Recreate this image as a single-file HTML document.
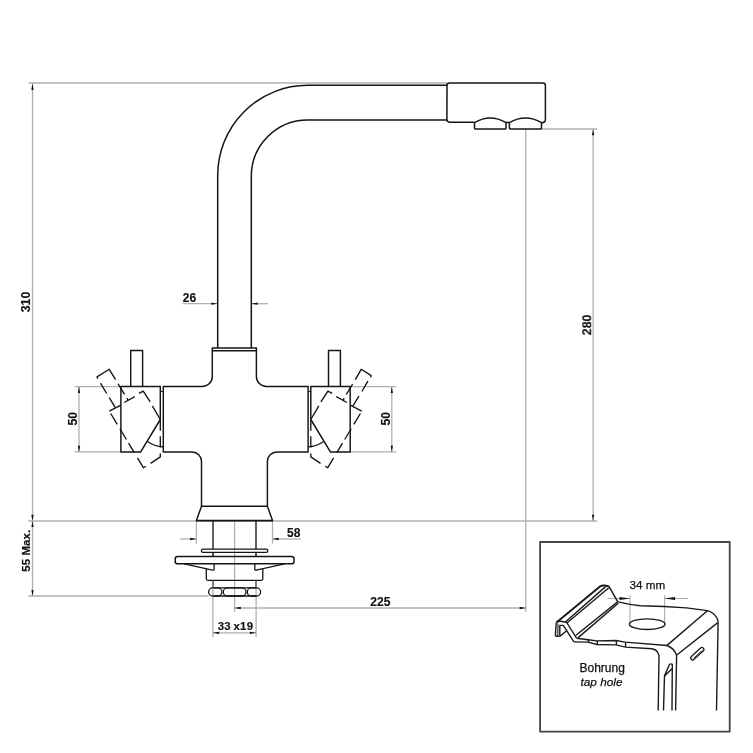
<!DOCTYPE html>
<html lang="de">
<head>
<meta charset="utf-8">
<title>Armatur Ma&#223;zeichnung</title>
<style>
html,body{margin:0;padding:0;background:#fff;}
body{width:753px;height:753px;overflow:hidden;font-family:"Liberation Sans",Arial,sans-serif;}
svg{display:block;}
svg line, svg path, svg polyline, svg rect, svg ellipse{stroke-linecap:butt;stroke-linejoin:round;}
</style>
</head>
<body>
<svg width="753" height="753" viewBox="0 0 753 753">
<rect x="0" y="0" width="753" height="753" fill="#ffffff" stroke="none"/>
<line x1="28.40" y1="83.10" x2="447.00" y2="83.10" stroke="#b0b0b0" stroke-width="1.5" />
<line x1="32.50" y1="83.10" x2="32.50" y2="596.10" stroke="#b0b0b0" stroke-width="1.3" />
<line x1="28.40" y1="520.90" x2="196.40" y2="520.90" stroke="#b0b0b0" stroke-width="1.5" />
<line x1="272.50" y1="520.90" x2="597.00" y2="520.90" stroke="#b0b0b0" stroke-width="1.5" />
<line x1="28.40" y1="596.10" x2="208.60" y2="596.10" stroke="#b0b0b0" stroke-width="1.5" />
<line x1="541.40" y1="129.00" x2="597.00" y2="129.00" stroke="#b0b0b0" stroke-width="1.5" />
<line x1="593.10" y1="129.00" x2="593.10" y2="520.90" stroke="#b0b0b0" stroke-width="1.3" />
<line x1="525.80" y1="129.00" x2="525.80" y2="612.00" stroke="#b0b0b0" stroke-width="1.3" />
<line x1="234.60" y1="608.00" x2="525.80" y2="608.00" stroke="#b0b0b0" stroke-width="1.3" />
<line x1="234.60" y1="520.90" x2="234.60" y2="612.00" stroke="#b0b0b0" stroke-width="1.3" />
<line x1="74.60" y1="386.70" x2="121.00" y2="386.70" stroke="#b0b0b0" stroke-width="1.3" />
<line x1="74.60" y1="451.90" x2="121.00" y2="451.90" stroke="#b0b0b0" stroke-width="1.3" />
<line x1="79.00" y1="386.70" x2="79.00" y2="451.90" stroke="#b0b0b0" stroke-width="1.3" />
<line x1="349.90" y1="386.70" x2="396.40" y2="386.70" stroke="#b0b0b0" stroke-width="1.3" />
<line x1="349.90" y1="451.90" x2="396.40" y2="451.90" stroke="#b0b0b0" stroke-width="1.3" />
<line x1="391.80" y1="386.70" x2="391.80" y2="451.90" stroke="#b0b0b0" stroke-width="1.3" />
<line x1="182.40" y1="303.70" x2="217.70" y2="303.70" stroke="#b0b0b0" stroke-width="1.3" />
<line x1="251.30" y1="303.70" x2="267.90" y2="303.70" stroke="#b0b0b0" stroke-width="1.3" />
<line x1="196.40" y1="520.90" x2="196.40" y2="543.70" stroke="#b0b0b0" stroke-width="1.3" />
<line x1="272.50" y1="520.90" x2="272.50" y2="543.70" stroke="#b0b0b0" stroke-width="1.3" />
<line x1="180.20" y1="539.00" x2="196.40" y2="539.00" stroke="#b0b0b0" stroke-width="1.3" />
<line x1="272.50" y1="539.00" x2="301.00" y2="539.00" stroke="#b0b0b0" stroke-width="1.3" />
<line x1="212.90" y1="588.60" x2="212.90" y2="637.00" stroke="#b0b0b0" stroke-width="1.3" />
<line x1="256.10" y1="588.60" x2="256.10" y2="637.00" stroke="#b0b0b0" stroke-width="1.3" />
<line x1="212.90" y1="632.80" x2="256.10" y2="632.80" stroke="#b0b0b0" stroke-width="1.3" />
<polygon points="32.50,83.70 33.65,89.90 31.35,89.90" fill="#111"/>
<polygon points="32.50,520.90 31.35,514.70 33.65,514.70" fill="#111"/>
<polygon points="32.50,520.90 33.65,527.10 31.35,527.10" fill="#111"/>
<polygon points="32.50,596.10 31.35,589.90 33.65,589.90" fill="#111"/>
<polygon points="593.10,129.00 594.25,135.20 591.95,135.20" fill="#111"/>
<polygon points="593.10,520.90 591.95,514.70 594.25,514.70" fill="#111"/>
<polygon points="234.60,608.00 240.80,606.85 240.80,609.15" fill="#111"/>
<polygon points="525.80,608.00 519.60,609.15 519.60,606.85" fill="#111"/>
<polygon points="79.00,386.70 80.15,392.90 77.85,392.90" fill="#111"/>
<polygon points="79.00,451.90 77.85,445.70 80.15,445.70" fill="#111"/>
<polygon points="391.80,386.70 392.95,392.90 390.65,392.90" fill="#111"/>
<polygon points="391.80,451.90 390.65,445.70 392.95,445.70" fill="#111"/>
<polygon points="217.50,303.70 211.30,304.85 211.30,302.55" fill="#111"/>
<polygon points="251.50,303.70 257.70,302.55 257.70,304.85" fill="#111"/>
<polygon points="196.40,539.00 190.20,540.15 190.20,537.85" fill="#111"/>
<polygon points="272.50,539.00 278.70,537.85 278.70,540.15" fill="#111"/>
<polygon points="212.90,632.80 219.10,631.65 219.10,633.95" fill="#111"/>
<polygon points="256.10,632.80 249.90,633.95 249.90,631.65" fill="#111"/>
<path d="M217.7,348 L217.7,175.3 A90,90 0 0 1 307.7,85.3 L447,85.3" stroke="#141414" stroke-width="1.5" fill="none" />
<path d="M251.3,348 L251.3,176.3 A56.4,56.4 0 0 1 307.7,119.9 L447,119.9" stroke="#141414" stroke-width="1.5" fill="none" />
<path d="M474.5,122.3 L450,122.3 Q446.9,122.3 446.9,119.3 L447,85.6 Q447,83.1 449.5,83.1 L542.9,83.1 Q545.4,83.1 545.4,85.6 L545.4,119.7 Q545.4,122.4 541.6,122.8" stroke="#141414" stroke-width="1.5" fill="none" />
<path d="M475.5,129.1 Q474.5,129.1 474.5,128 L474.5,122.6 Q490.25,113.4 506.0,122.6 L506.0,128 Q506.0,129.1 505.0,129.1 Z" stroke="#141414" stroke-width="1.5" fill="none" />
<path d="M510.4,129.1 Q509.4,129.1 509.4,128 L509.4,122.6 Q525.45,113.4 541.5,122.6 L541.5,128 Q541.5,129.1 540.5,129.1 Z" stroke="#141414" stroke-width="1.5" fill="none" />
<line x1="506.00" y1="122.40" x2="509.40" y2="122.40" stroke="#141414" stroke-width="1.5" />
<path d="M212.3,347.9 H256.4 V350.7 H212.3 Z" stroke="#141414" stroke-width="1.5" fill="none" />
<path d="M212.3,350.7 V376.5 A10,10 0 0 1 202.3,386.5 H163.3 V452 H192.0 A9.5,9.5 0 0 1 201.5,461.5 V506.2 M267.4,506.2 V461.5 A9.5,9.5 0 0 1 276.9,452 H308.1 V386.5 H266.4 A10,10 0 0 1 256.4,376.5 V350.7" stroke="#141414" stroke-width="1.45" fill="none" />
<path d="M201.5,506.2 H267.4 L272.5,520.6 H196.4 Z" stroke="#141414" stroke-width="1.45" fill="none" />
<line x1="196.00" y1="520.70" x2="272.90" y2="520.70" stroke="#141414" stroke-width="1.7" />
<line x1="213.00" y1="520.40" x2="213.00" y2="549.10" stroke="#141414" stroke-width="1.35" />
<line x1="256.00" y1="520.40" x2="256.00" y2="549.10" stroke="#141414" stroke-width="1.35" />
<line x1="213.00" y1="552.30" x2="213.00" y2="556.60" stroke="#141414" stroke-width="1.5" />
<line x1="256.00" y1="552.30" x2="256.00" y2="556.60" stroke="#141414" stroke-width="1.5" />
<rect x="201.4" y="549.1" width="66.4" height="3.2" rx="1.6" fill="none" stroke="#141414" stroke-width="1.3"/>
<rect x="175.2" y="556.6" width="118.8" height="7.2" rx="2.4" fill="none" stroke="#141414" stroke-width="1.5"/>
<path d="M184.1,563.8 L212.6,570.2 Q214.1,570.4 214.1,569 L214.1,563.8" stroke="#141414" stroke-width="1.3" fill="none" />
<path d="M284.5,563.8 L256.3,570.2 Q254.8,570.4 254.8,569 L254.8,563.8" stroke="#141414" stroke-width="1.3" fill="none" />
<path d="M206.3,568.8 V578.8 Q206.3,580.3 207.8,580.3 H261.3 Q262.8,580.3 262.8,578.8 V568.8" stroke="#141414" stroke-width="1.3" fill="none" />
<line x1="213.00" y1="580.30" x2="213.00" y2="588.00" stroke="#3a3a3a" stroke-width="1.3" />
<line x1="256.00" y1="580.30" x2="256.00" y2="588.00" stroke="#3a3a3a" stroke-width="1.3" />
<rect x="208.6" y="587.9" width="13.30" height="8.10" rx="4.05" fill="none" stroke="#141414" stroke-width="1.3"/>
<rect x="223.3" y="587.9" width="22.70" height="8.10" rx="4.05" fill="none" stroke="#141414" stroke-width="1.3"/>
<rect x="247.3" y="587.9" width="13.30" height="8.10" rx="4.05" fill="none" stroke="#141414" stroke-width="1.3"/>
<line x1="214.00" y1="587.90" x2="256.00" y2="587.90" stroke="#141414" stroke-width="1.3" />
<line x1="214.00" y1="596.00" x2="256.00" y2="596.00" stroke="#141414" stroke-width="1.3" />
<polyline points="130.70,386.50 130.70,350.50 142.60,350.50 142.60,386.50" fill="none" stroke="#141414" stroke-width="1.45"/>
<polyline points="160.30,419.50 160.30,386.50 120.90,386.50 120.90,451.90 140.70,451.90 160.30,419.50" fill="none" stroke="#141414" stroke-width="1.45"/>
<polyline points="160.30,391.40 163.20,391.40" fill="none" stroke="#141414" stroke-width="1.0"/>
<path d="M147.50,441.5 Q154.00,446.3 163.20,446.8" fill="none" stroke="#141414" stroke-width="1.3"/>
<polyline points="109.30,411.20 120.90,405.10" fill="none" stroke="#141414" stroke-width="1.35"/>
<polyline points="124.20,402.50 134.80,396.60" fill="none" stroke="#141414" stroke-width="1.35"/>
<polyline points="139.00,393.40 143.20,391.10 150.20,401.90" fill="none" stroke="#141414" stroke-width="1.35"/>
<polyline points="152.30,405.90 160.30,419.50" fill="none" stroke="#141414" stroke-width="1.35"/>
<polyline points="160.30,420.00 160.30,430.80" fill="none" stroke="#141414" stroke-width="1.35"/>
<polyline points="160.30,436.30 160.30,447.50" fill="none" stroke="#141414" stroke-width="1.35"/>
<polyline points="160.30,453.50 160.30,456.90 150.60,463.40" fill="none" stroke="#141414" stroke-width="1.35"/>
<polyline points="137.50,457.87 143.50,467.80 145.90,466.30" fill="none" stroke="#141414" stroke-width="1.35"/>
<polyline points="110.70,413.52 117.30,424.44" fill="none" stroke="#141414" stroke-width="1.35"/>
<polyline points="119.90,428.74 126.40,439.50" fill="none" stroke="#141414" stroke-width="1.35"/>
<polyline points="128.60,443.14 134.30,452.57" fill="none" stroke="#141414" stroke-width="1.35"/>
<polyline points="115.10,407.30 109.30,397.70" fill="none" stroke="#141414" stroke-width="1.35"/>
<polyline points="106.70,393.50 100.50,383.20" fill="none" stroke="#141414" stroke-width="1.35"/>
<polyline points="98.00,378.70 96.97,376.90 109.26,369.30 115.60,379.60" fill="none" stroke="#141414" stroke-width="1.35"/>
<polyline points="118.10,383.80 124.50,394.30" fill="none" stroke="#141414" stroke-width="1.35"/>
<polyline points="126.90,398.20 128.20,400.30" fill="none" stroke="#141414" stroke-width="1.35"/>
<polyline points="340.40,386.50 340.40,350.50 328.50,350.50 328.50,386.50" fill="none" stroke="#141414" stroke-width="1.45"/>
<polyline points="310.80,419.50 310.80,386.50 350.20,386.50 350.20,451.90 330.40,451.90 310.80,419.50" fill="none" stroke="#141414" stroke-width="1.45"/>
<polyline points="310.80,391.40 307.90,391.40" fill="none" stroke="#141414" stroke-width="1.0"/>
<path d="M323.60,441.5 Q317.10,446.3 307.90,446.8" fill="none" stroke="#141414" stroke-width="1.3"/>
<polyline points="361.80,411.20 350.20,405.10" fill="none" stroke="#141414" stroke-width="1.35"/>
<polyline points="346.90,402.50 336.30,396.60" fill="none" stroke="#141414" stroke-width="1.35"/>
<polyline points="332.10,393.40 327.90,391.10 320.90,401.90" fill="none" stroke="#141414" stroke-width="1.35"/>
<polyline points="318.80,405.90 310.80,419.50" fill="none" stroke="#141414" stroke-width="1.35"/>
<polyline points="310.80,420.00 310.80,430.80" fill="none" stroke="#141414" stroke-width="1.35"/>
<polyline points="310.80,436.30 310.80,447.50" fill="none" stroke="#141414" stroke-width="1.35"/>
<polyline points="310.80,453.50 310.80,456.90 320.50,463.40" fill="none" stroke="#141414" stroke-width="1.35"/>
<polyline points="333.60,457.87 327.60,467.80 325.20,466.30" fill="none" stroke="#141414" stroke-width="1.35"/>
<polyline points="360.40,413.52 353.80,424.44" fill="none" stroke="#141414" stroke-width="1.35"/>
<polyline points="351.20,428.74 344.70,439.50" fill="none" stroke="#141414" stroke-width="1.35"/>
<polyline points="342.50,443.14 336.80,452.57" fill="none" stroke="#141414" stroke-width="1.35"/>
<polyline points="352.90,405.80 358.90,396.20" fill="none" stroke="#141414" stroke-width="1.35"/>
<polyline points="361.90,391.50 367.90,381.20" fill="none" stroke="#141414" stroke-width="1.35"/>
<polyline points="370.60,377.40 371.20,375.60 361.20,369.30 355.30,379.60" fill="none" stroke="#141414" stroke-width="1.35"/>
<polyline points="352.60,384.20 346.30,394.50" fill="none" stroke="#141414" stroke-width="1.35"/>
<polyline points="344.20,398.20 343.00,400.30" fill="none" stroke="#141414" stroke-width="1.35"/>
<g font-family="'Liberation Sans', Arial, sans-serif" fill="#111" stroke="#111" stroke-width="0.15" style="opacity:0.999">
<text x="30.30" y="302.00" font-size="12.3" font-weight="bold" font-style="normal" text-anchor="middle" transform="rotate(-90 30.30 302.00)" >310</text>
<text x="591.10" y="324.90" font-size="12.3" font-weight="bold" font-style="normal" text-anchor="middle" transform="rotate(-90 591.10 324.90)" >280</text>
<text x="77.00" y="418.70" font-size="12.2" font-weight="bold" font-style="normal" text-anchor="middle" transform="rotate(-90 77.00 418.70)" >50</text>
<text x="389.80" y="418.70" font-size="12.2" font-weight="bold" font-style="normal" text-anchor="middle" transform="rotate(-90 389.80 418.70)" >50</text>
<text x="30.50" y="550.70" font-size="11.5" font-weight="bold" font-style="normal" text-anchor="middle" transform="rotate(-90 30.50 550.70)" letter-spacing="0.08">55 Max.</text>
<text x="189.40" y="301.70" font-size="12.0" font-weight="bold" font-style="normal" text-anchor="middle" >26</text>
<text x="293.70" y="536.90" font-size="12.0" font-weight="bold" font-style="normal" text-anchor="middle" >58</text>
<text x="380.30" y="605.80" font-size="12.0" font-weight="bold" font-style="normal" text-anchor="middle" >225</text>
<text x="235.50" y="630.30" font-size="11.4" font-weight="bold" font-style="normal" text-anchor="middle" word-spacing="-1.0" letter-spacing="0.3">33 x19</text>
<text x="647.40" y="588.90" font-size="11.7" font-weight="normal" font-style="normal" text-anchor="middle" stroke="#111" stroke-width="0.25">34 mm</text>
<text x="602.20" y="671.90" font-size="12" font-weight="normal" font-style="normal" text-anchor="middle" stroke="#111" stroke-width="0.25">Bohrung</text>
<text x="601.50" y="685.80" font-size="11.8" font-weight="normal" font-style="italic" text-anchor="middle" stroke="#111" stroke-width="0.25">tap hole</text>
</g>
<rect x="540.1" y="542" width="189.6" height="189.6" fill="none" stroke="#444" stroke-width="1.8"/>
<line x1="630.00" y1="595.00" x2="630.00" y2="623.50" stroke="#b0b0b0" stroke-width="1.1" />
<line x1="664.60" y1="595.00" x2="664.60" y2="623.50" stroke="#b0b0b0" stroke-width="1.1" />
<line x1="607.50" y1="598.50" x2="630.00" y2="598.50" stroke="#b0b0b0" stroke-width="1.1" />
<line x1="664.60" y1="598.50" x2="688.00" y2="598.50" stroke="#b0b0b0" stroke-width="1.1" />
<polygon points="630.00,598.50 619.50,600.00 619.50,597.00" fill="#111"/>
<polygon points="664.60,598.50 675.10,597.00 675.10,600.00" fill="#111"/>
<ellipse cx="647.2" cy="624.2" rx="17.8" ry="5.3" fill="none" stroke="#1a1a1a" stroke-width="1.4"/>
<path d="M556.4,622.5 L600.3,586.2 Q602.5,585.2 604.5,585.5 L608.8,586.2" stroke="#1a1a1a" stroke-width="2.0" fill="none" />
<path d="M608.8,586.2 L617.8,601.8" stroke="#1a1a1a" stroke-width="1.5" fill="none" />
<path d="M565.4,622 L605.6,586.6" stroke="#1a1a1a" stroke-width="1.4" fill="none" />
<path d="M567,623 L608.8,587.8" stroke="#1a1a1a" stroke-width="1.4" fill="none" />
<path d="M576,635.2 L617.3,602.1" stroke="#1a1a1a" stroke-width="1.4" fill="none" />
<path d="M578.2,637.6 L618.3,603.2" stroke="#1a1a1a" stroke-width="1.4" fill="none" />
<path d="M556.4,622.5 Q558,621 560.4,621.2 L565.4,622 L567,623 L576.6,638.2" stroke="#1a1a1a" stroke-width="1.4" fill="none" />
<path d="M556.2,622.8 L555.4,635.6 Q555.4,636.3 556.3,636.3 L560.1,636.1 L567,630.5" stroke="#1a1a1a" stroke-width="1.4" fill="none" />
<path d="M558,623.5 L557.8,636.2" stroke="#1a1a1a" stroke-width="1.1" fill="none" />
<path d="M559.8,635.5 L559.8,625.4 L563.3,625.4 L573.9,641.9" stroke="#1a1a1a" stroke-width="1.4" fill="none" />
<path d="M576.6,638.2 L588.1,639.7 L596.9,640.9 L616,640.5 L625,642.1 L667,645.5" stroke="#1a1a1a" stroke-width="1.4" fill="none" />
<path d="M573.9,641.9 L588.1,642.1 L596.9,644.5 L616,644.9 L625.6,647.1 L651.9,648.7 Q657.6,649.6 659,655.5 L658.2,710.5" stroke="#1a1a1a" stroke-width="1.4" fill="none" />
<line x1="588.50" y1="639.70" x2="588.50" y2="642.10" stroke="#1a1a1a" stroke-width="1.4" />
<line x1="597.30" y1="640.90" x2="597.30" y2="644.50" stroke="#1a1a1a" stroke-width="1.4" />
<line x1="616.40" y1="640.50" x2="616.40" y2="644.90" stroke="#1a1a1a" stroke-width="1.4" />
<line x1="625.60" y1="642.10" x2="625.60" y2="647.10" stroke="#1a1a1a" stroke-width="1.4" />
<path d="M618,601.9 Q629,604.6 640.3,605.7 L664.2,606.5 L686.5,607.9 L707.6,610.6 Q713.8,612.4 717.3,618.5 Q718.1,621 718.1,623 L716.5,710.5" stroke="#1a1a1a" stroke-width="1.4" fill="none" />
<path d="M667,645.5 Q674.5,648.5 676.6,655.5 L675.6,710.5" stroke="#1a1a1a" stroke-width="1.4" fill="none" />
<line x1="667.00" y1="645.40" x2="707.40" y2="610.70" stroke="#1a1a1a" stroke-width="1.4" />
<line x1="677.10" y1="654.80" x2="717.50" y2="622.90" stroke="#1a1a1a" stroke-width="1.4" />
<rect x="689.1" y="651.7" width="16.4" height="4.0" rx="2" fill="none" stroke="#1a1a1a" stroke-width="1.3" transform="rotate(-42.5 697.3 653.7)"/>
<line x1="691.4" y1="654.6" x2="703" y2="654.6" stroke="#1a1a1a" stroke-width="0.9" transform="rotate(-42.5 697.3 653.7)"/>
<path d="M663.5,710.5 L664.5,675.9 L669.3,664.8 Q670.6,663.1 672.3,664.4 L672,710.5" stroke="#1a1a1a" stroke-width="1.4" fill="none" />
<path d="M664.5,675.9 L672.3,668.5" stroke="#1a1a1a" stroke-width="1.4" fill="none" />
</svg>
</body>
</html>
